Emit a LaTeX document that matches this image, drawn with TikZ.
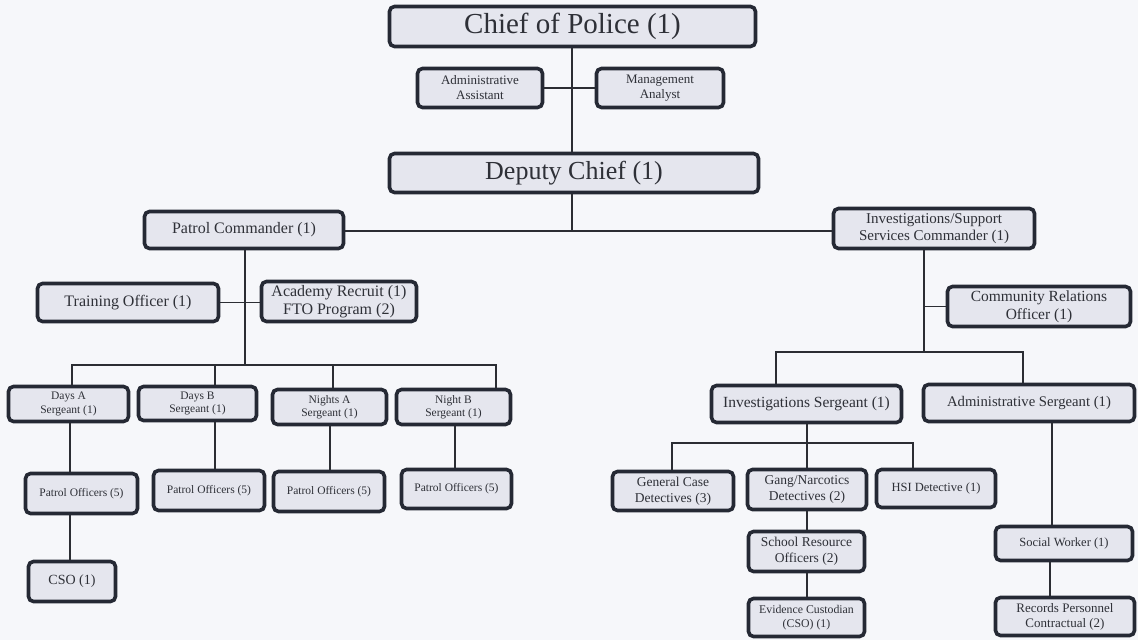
\documentclass[tikz,border=0pt]{standalone}
\usepackage{fontspec}
\setmainfont{Liberation Serif}
\definecolor{bg}{HTML}{F6F7FA}
\definecolor{boxfill}{HTML}{E5E6EE}
\definecolor{boxline}{HTML}{252934}
\definecolor{conn}{HTML}{2B2D33}
\definecolor{txt}{HTML}{2E3037}
\tikzset{
  orgbox/.style={draw=boxline, line width=3.6pt, fill=boxfill, rounded corners=5pt,
    inner sep=0pt, align=center, text=txt},
  conline/.style={draw=conn, line width=1.8pt},
}
\newcommand{\fs}[1]{\fontsize{#1pt}{\dimexpr #1pt*115/100\relax}\selectfont}
\begin{document}
\begin{tikzpicture}[x=1pt,y=-1pt]
\fill[bg] (0,0) rectangle (1138,640);
\useasboundingbox (0,0) rectangle (1138,640);

% top
\node[orgbox, minimum width=366, minimum height=40, font=\fs{29}] (chief) at (572.5,26.5) {Chief of Police (1)};
\node[orgbox, minimum width=125, minimum height=39, font=\fs{13}] (admin) at (480,88) {Administrative\\Assistant};
\node[orgbox, minimum width=127, minimum height=39, font=\fs{13}] (mgmt) at (660,88) {Management\\Analyst};
\node[orgbox, minimum width=369, minimum height=39, font=\fs{26}] (deputy) at (574,173) {Deputy Chief (1)};

% commanders
\node[orgbox, minimum width=199, minimum height=37, font=\fs{16}] (patrol) at (244,230) {Patrol Commander (1)};
\node[orgbox, minimum width=201, minimum height=40, font=\fs{15}] (invcmd) at (934,228.5) {Investigations/Support\\Services Commander (1)};

% patrol side
\node[orgbox, minimum width=181, minimum height=38, font=\fs{16}] (training) at (128,302.5) {Training Officer (1)};
\node[orgbox, minimum width=155, minimum height=40, font=\fs{16}] (academy) at (339,301.5) {Academy Recruit (1)\\FTO Program (2)};

\node[orgbox, minimum width=120, minimum height=35, font=\fs{11.5}] (daysA) at (68.5,404) {Days A\\Sergeant (1)};
\node[orgbox, minimum width=118, minimum height=34, font=\fs{11.5}] (daysB) at (197.5,403.5) {Days B\\Sergeant (1)};
\node[orgbox, minimum width=114, minimum height=35, font=\fs{11.5}] (nightsA) at (329.5,407) {Nights A\\Sergeant (1)};
\node[orgbox, minimum width=114, minimum height=35, font=\fs{11.5}] (nightB) at (453.5,407) {Night B\\Sergeant (1)};

\node[orgbox, minimum width=112, minimum height=40, font=\fs{11.5}] (po1) at (81.5,493.5) {Patrol Officers (5)};
\node[orgbox, minimum width=111, minimum height=40, font=\fs{11.5}] (po2) at (209,490.5) {Patrol Officers (5)};
\node[orgbox, minimum width=111, minimum height=40, font=\fs{11.5}] (po3) at (329,491.5) {Patrol Officers (5)};
\node[orgbox, minimum width=110, minimum height=39, font=\fs{11.5}] (po4) at (456.5,489) {Patrol Officers (5)};
\node[orgbox, minimum width=87, minimum height=40, font=\fs{14}] (cso) at (72,581.5) {CSO (1)};

% investigations side
\node[orgbox, minimum width=183, minimum height=40, font=\fs{15.5}] (commrel) at (1039,306.5) {Community Relations\\Officer (1)};
\node[orgbox, minimum width=190, minimum height=37, font=\fs{15.5}] (invsgt) at (806.5,404) {Investigations Sergeant (1)};
\node[orgbox, minimum width=211, minimum height=37, font=\fs{14.7}] (adminsgt) at (1029,403) {Administrative Sergeant (1)};

\node[orgbox, minimum width=121, minimum height=39, font=\fs{13.5}] (gencase) at (673,491) {General Case\\Detectives (3)};
\node[orgbox, minimum width=119, minimum height=40, font=\fs{13.5}] (gang) at (807,489.5) {Gang/Narcotics\\Detectives (2)};
\node[orgbox, minimum width=119, minimum height=38, font=\fs{12.5}] (hsi) at (936,488.5) {HSI Detective (1)};
\node[orgbox, minimum width=116, minimum height=40, font=\fs{13.5}] (sro) at (806.5,551.5) {School Resource\\Officers (2)};
\node[orgbox, minimum width=116, minimum height=38, font=\fs{11.8}] (evid) at (806.5,617.5) {Evidence Custodian\\(CSO) (1)};
\node[orgbox, minimum width=137, minimum height=34, font=\fs{12.5}] (social) at (1064,543.5) {Social Worker (1)};
\node[orgbox, minimum width=139, minimum height=38, font=\fs{13}] (records) at (1065,616.5) {Records Personnel\\Contractual (2)};

% trunk coordinates
\coordinate (tA) at (572,0);
\coordinate (jDep) at (572,231);
\coordinate (pt) at (245,0);
\coordinate (pbar) at (245,365);
\coordinate (it) at (924,0);
\coordinate (ibar) at (924,352);
\coordinate (sgtbar) at (807,443);
\coordinate (xA) at (72,365);
\coordinate (xB) at (215,365);
\coordinate (xC) at (333,365);
\coordinate (xD) at (496,365);
\coordinate (p1) at (70,0);
\coordinate (p2) at (215,0);
\coordinate (p3) at (330,0);
\coordinate (p4) at (455,0);
\coordinate (iL) at (776,352);
\coordinate (iR) at (1023,352);
\coordinate (dL) at (672,443);
\coordinate (dR) at (913,443);
\coordinate (aS) at (1052,0);
\coordinate (aR) at (1050,0);

% top connectors
\draw[conline] (chief.south -| tA) -- (deputy.north -| tA);
\draw[conline] (admin.east) -- (mgmt.west);
\draw[conline] (deputy.south -| tA) -- (jDep);
\draw[conline] (patrol.east |- jDep) -- (invcmd.west |- jDep);

% patrol branch
\draw[conline] (patrol.south -| pt) -- (pbar);
\draw[conline] (training.east) -- (academy.west |- training.east);
\draw[conline] (daysA.north -| xA) -- (xA) -- (xD) -- (nightB.north -| xD);
\draw[conline] (daysB.north -| xB) -- (xB);
\draw[conline] (nightsA.north -| xC) -- (xC);
\draw[conline] (daysA.south -| p1) -- (po1.north -| p1);
\draw[conline] (daysB.south -| p2) -- (po2.north -| p2);
\draw[conline] (nightsA.south -| p3) -- (po3.north -| p3);
\draw[conline] (nightB.south -| p4) -- (po4.north -| p4);
\draw[conline] (po1.south -| p1) -- (cso.north -| p1);

% investigations branch
\draw[conline] (invcmd.south -| it) -- (ibar);
\draw[conline] (commrel.west -| it) -- (commrel.west);
\draw[conline] (invsgt.north -| iL) -- (iL) -- (iR) -- (adminsgt.north -| iR);
\draw[conline] (invsgt.south -| sgtbar) -- (sgtbar);
\draw[conline] (gencase.north -| dL) -- (dL) -- (dR) -- (hsi.north -| dR);
\draw[conline] (gang.north -| sgtbar) -- (sgtbar);
\draw[conline] (gang.south -| sgtbar) -- (sro.north -| sgtbar);
\draw[conline] (sro.south -| sgtbar) -- (evid.north -| sgtbar);
\draw[conline] (adminsgt.south -| aS) -- (social.north -| aS);
\draw[conline] (social.south -| aR) -- (records.north -| aR);
\end{tikzpicture}
\end{document}
